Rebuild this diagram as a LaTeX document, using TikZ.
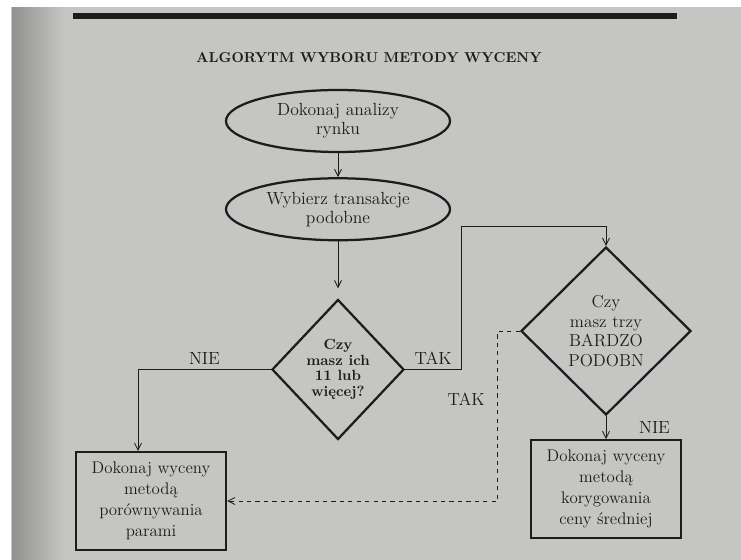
\documentclass[tikz,border=0pt]{standalone}
\usepackage{fontspec}
\usetikzlibrary{shapes.geometric, arrows.meta, positioning}
\definecolor{paper}{RGB}{197,198,195}
\definecolor{paperdark}{RGB}{145,146,144}
\definecolor{ink}{RGB}{28,28,28}

\begin{document}
\begin{tikzpicture}[
    node distance=0.6cm,
    oval/.style={ellipse, draw=ink, line width=1.6pt, minimum width=5.6cm, minimum height=1.55cm, align=center, inner sep=0pt, text=ink, font=\fontsize{12.5}{13.5}\selectfont},
    decision/.style={diamond, draw=ink, line width=1.6pt, align=center, inner sep=0pt, text=ink},
    action/.style={rectangle, draw=ink, line width=1.5pt, minimum width=3.75cm, minimum height=2.45cm, align=center, inner sep=0pt, text=ink, font=\fontsize{12}{15}\selectfont},
    arrow/.style={-{Straight Barb[length=5pt, width=5pt]}, line width=0.6pt, draw=ink},
    lbl/.style={text=ink, font=\fontsize{12.5}{13}\selectfont}
]
    % page of the photographed book
    \useasboundingbox (0,0) rectangle (18.525,-14);
    \fill[white] (0,0) rectangle (18.525,-14);
    \fill[paper] (0.275,-0.175) rectangle (18.525,-14);
    \shade[left color=paperdark, right color=paper] (0.3,-0.175) rectangle (1.6,-14);
    \fill[ink] (1.825,-0.325) rectangle (16.925,-0.475);

    \node[text=ink, font=\bfseries\fontsize{10.2}{12}\selectfont] (title) at (9.225,-1.45) {ALGORYTM WYBORU METODY WYCENY};

    \node[oval] (analiza) at (8.45,-3.025) {Dokonaj analizy\\rynku};
    \node[oval, below=of analiza] (wybor) {Wybierz transakcje\\podobne};
    \node[decision, minimum width=3.3cm, minimum height=3.5cm, below=1.425cm of wybor, font=\bfseries\fontsize{10.5}{11}\selectfont] (ile) {Czy\\masz ich\\11 lub\\więcej?};
    \node[decision, minimum width=4.25cm, minimum height=4.2cm, font=\fontsize{12.3}{14}\selectfont] (trzy) at (15.15,-8.275) {Czy\\masz trzy\\BARDZO\\PODOBN};
    \node[action] (pary) at (3.775,-12.525) {Dokonaj wyceny\\metodą\\porównywania\\parami};
    \node[action, below=0.575cm of trzy] (srednia) {Dokonaj wyceny\\metodą\\korygowania\\ceny średniej};

    \draw[arrow] (analiza) -- (wybor);
    \draw[arrow, shorten >=0.25cm] (wybor) -- (ile);
    \draw[arrow] (ile.west) -| node[pos=0.25, above, lbl] {NIE} ([xshift=-0.325cm]pary.north);
    \draw[arrow] (ile.east) -- node[above, lbl] {TAK} ++(1.4,0) |- ([yshift=0.475cm]trzy.north) -- (trzy.north);
    \draw[arrow, dashed] (trzy.west) -- ++(-0.55,0) |- node[pos=0.2, left=0.2cm, lbl] {TAK} (pary.east);
    \draw[arrow] (trzy.south) -- node[right=0.7cm, lbl] {NIE} (srednia.north);
\end{tikzpicture}
\end{document}
